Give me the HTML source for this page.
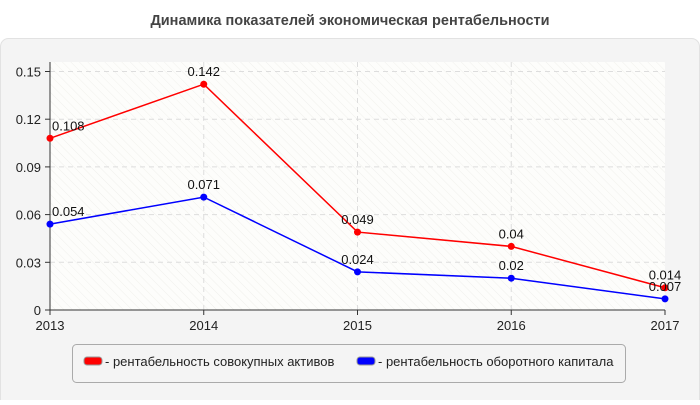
<!DOCTYPE html>
<html><head><meta charset="utf-8"><style>
body{margin:0;width:700px;height:400px;background:#fff;font-family:"Liberation Sans",sans-serif;overflow:hidden}
</style></head><body>
<svg width="700" height="400" id="svg">
<defs><pattern id="hatch" width="6" height="6" patternUnits="userSpaceOnUse" patternTransform="rotate(-45)"><rect width="6" height="6" fill="#fdfdfb"/><line x1="0" y1="0" x2="0" y2="6" stroke="#f0f0ec" stroke-width="1"/></pattern></defs>
<text x="350" y="25" text-anchor="middle" font-size="14.5" font-weight="bold" fill="#444">Динамика показателей экономическая рентабельности</text>
<rect x="0.5" y="38.5" width="699" height="370" rx="8" fill="#f4f4f4" stroke="#e2e2e2"/>
<rect x="50" y="62" width="615" height="248" fill="url(#hatch)"/>
<g id="grid"></g><g id="axes"></g><g id="series"></g>
<rect x="72.5" y="344.5" width="553" height="38" rx="4" fill="#f4f4f4" stroke="#aaa"/>
<g><rect x="84" y="357" width="18" height="8" rx="3" fill="#f00" stroke="#999"/><text x="105" y="366" font-size="13" fill="#222">- рентабельность совокупных активов</text></g>
<g><rect x="357" y="357" width="18" height="8" rx="3" fill="#00f" stroke="#999"/><text x="378" y="366" font-size="13" fill="#222">- рентабельность оборотного капитала</text></g>
</svg>
<script>
const categories=["2013","2014","2015","2016","2017"];
const assets=[0.108,0.142,0.049,0.04,0.014];
const working=[0.054,0.071,0.024,0.02,0.007];
const yTicks=[0,0.03,0.06,0.09,0.12,0.15];
const yTickLabels=["0","0.03","0.06","0.09","0.12","0.15"];
const NS="http://www.w3.org/2000/svg";
const x=i=>50+i*(615/(categories.length-1));
const y=v=>310-v*(238.5/0.15);
function mk(t,a,p){const e=document.createElementNS(NS,t);for(const k in a)e.setAttribute(k,a[k]);p.appendChild(e);return e;}
const grid=document.getElementById('grid'),axes=document.getElementById('axes'),ser=document.getElementById('series');
yTicks.forEach((v,i)=>{
 if(v>0){const g=mk('line',{x1:50,x2:665,y1:y(v),y2:y(v),stroke:'#ddd','stroke-dasharray':'5,4'},grid);
 
 }
 mk('line',{x1:45,x2:50,y1:y(v),y2:y(v),stroke:'#333'},axes);
 const t=mk('text',{x:41,y:y(v)+5,'text-anchor':'end','font-size':13,fill:'#222'},axes);t.textContent=yTickLabels[i];
 
 
});
categories.forEach((c,i)=>{
 if(i>0&&i<categories.length-1){const g=mk('line',{x1:x(i),x2:x(i),y1:62,y2:310,stroke:'#ddd','stroke-dasharray':'5,4'},grid);
 
 }
 mk('line',{x1:x(i),x2:x(i),y1:310,y2:315,stroke:'#333'},axes);
 const t=mk('text',{x:x(i),y:330,'text-anchor':'middle','font-size':13,fill:'#222'},axes);t.textContent=c;
 
 
});
mk('line',{x1:50,x2:50,y1:62,y2:310,stroke:'#333'},axes);
mk('line',{x1:45,x2:665,y1:310,y2:310,stroke:'#333'},axes);
function series(vals,col,name){
 const p=mk('polyline',{points:vals.map((v,i)=>x(i)+','+y(v)).join(' '),fill:'none',stroke:col,'stroke-width':1.5},ser);
 
 
 vals.forEach((v,i)=>{
  const c=mk('circle',{cx:x(i),cy:y(v),r:3.5,fill:col},ser);
  
  
  const t=mk('text',{x:i==0?x(i)+2:x(i),y:y(v)-8,'text-anchor':i==0?'start':'middle','font-size':13,fill:'#111'},ser);
  t.textContent=String(v);
  
  
 });
}
series(assets,'#f00','assets');
series(working,'#00f','working-capital');
</script>
</body></html>
